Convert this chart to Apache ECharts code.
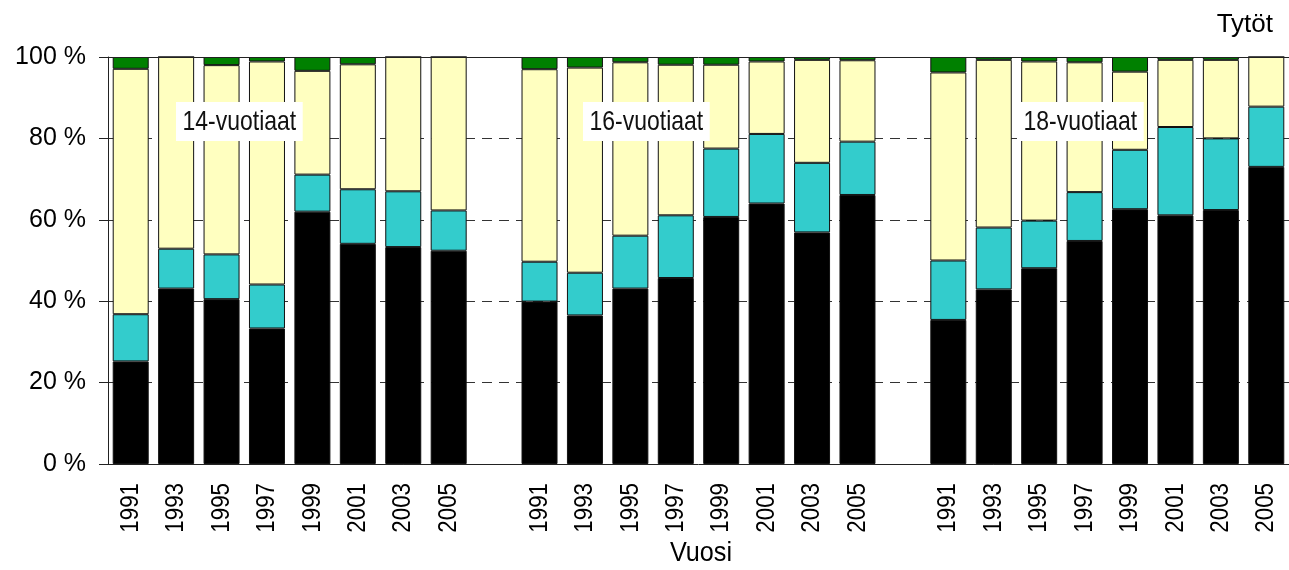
<!DOCTYPE html>
<html>
<head>
<meta charset="utf-8">
<script src="https://cdn.jsdelivr.net/npm/echarts@6/dist/echarts.min.js"></script>
<style>
html,body{margin:0;padding:0;background:#fff;}
#chart{width:1289px;height:570px;}
</style>
</head>
<body>
<div id="chart"></div>
<script>
const groups = ['14-vuotiaat', '16-vuotiaat', '18-vuotiaat'];
const years = ['1991', '1993', '1995', '1997', '1999', '2001', '2003', '2005'];
const yTicks = [0, 20, 40, 60, 80, 100];

const black14 = [25.2, 43.1, 40.5, 33.3, 62.0, 54.1, 53.3, 52.4];
const cyan14 = [11.6, 9.8, 11.0, 10.8, 9.1, 13.4, 13.7, 9.9];
const yellow14 = [60.3, 47.1, 46.5, 54.8, 25.5, 30.7, 33.0, 37.7];
const green14 = [2.9, 0, 2.0, 1.1, 3.4, 1.8, 0, 0];

const black16 = [39.9, 36.5, 43.1, 45.7, 60.7, 64.0, 56.9, 66.1];
const cyan16 = [9.8, 10.5, 13.0, 15.4, 16.8, 17.1, 17.1, 13.1];
const yellow16 = [47.3, 50.4, 42.6, 37.0, 20.6, 17.8, 25.3, 20.0];
const green16 = [3.0, 2.6, 1.3, 1.9, 1.9, 1.1, 0.7, 0.8];

const black18 = [35.4, 42.9, 48.1, 54.8, 62.6, 61.1, 62.4, 73.0];
const cyan18 = [14.6, 15.2, 11.7, 12.0, 14.6, 21.7, 17.6, 14.8];
const yellow18 = [46.2, 41.2, 39.1, 31.9, 19.2, 16.5, 19.3, 12.2];
const green18 = [3.8, 0.7, 1.1, 1.3, 3.6, 0.7, 0.7, 0];

// Category list: 8 years, empty slot, 8 years, empty slot, 8 years
const categories = [];
groups.forEach((g, gi) => {
  years.forEach(y => categories.push(g + '|' + y));
  if (gi < groups.length - 1) categories.push('gap' + gi);
});
function join(a, b, c) {
  return [].concat(a, ['-'], b, ['-'], c);
}
const seriesDefs = [
  { name: 'black', color: '#000000', data: join(black14, black16, black18) },
  { name: 'cyan', color: '#33CCCC', data: join(cyan14, cyan16, cyan18) },
  { name: 'yellow', color: '#FFFFC0', data: join(yellow14, yellow16, yellow18) },
  { name: 'green', color: '#008000', data: join(green14, green16, green18) }
];

const font = "'Liberation Sans', Arial, sans-serif";

const chart = echarts.init(document.getElementById('chart'), null, { renderer: 'canvas' });
chart.setOption({
  animation: false,
  backgroundColor: '#ffffff',
  grid: { left: 108, top: 57, width: 1182, bottom: 106 },
  xAxis: {
    type: 'category',
    data: categories,
    axisLine: { show: true, lineStyle: { color: '#222', width: 1 } },
    axisTick: { show: false },
    axisLabel: { show: false },
    splitLine: { show: false }
  },
  yAxis: {
    type: 'value',
    min: yTicks[0],
    max: yTicks[yTicks.length - 1],
    interval: 20,
    axisLine: { show: true, lineStyle: { color: '#222', width: 1 } },
    axisTick: { show: true, inside: false, length: 9, lineStyle: { color: '#222' } },
    axisLabel: {
      margin: 22,
      color: '#000',
      fontFamily: font,
      fontSize: 25,
      formatter: v => v + ' %'
    },
    splitLine: {
      show: true,
      lineStyle: { color: ['transparent', '#333', '#333', '#333', '#333', 'transparent'], type: [10, 7], width: 1 }
    }
  },
  series: seriesDefs.map((s, i) => ({
    name: s.name,
    type: 'bar',
    stack: 'total',
    barWidth: 36,
    data: s.data,
    itemStyle: { color: s.color, borderColor: '#111', borderWidth: 1 },
    emphasis: { disabled: true },
    markLine: i === 0 ? {
      silent: true, symbol: 'none', label: { show: false },
      lineStyle: { color: '#222', type: 'solid', width: 1 },
      data: [{ yAxis: yTicks[yTicks.length - 1] }]
    } : undefined
  }))
});

// Text annotations and rotated, condensed year labels
const graphics = [];
const axisY = chart.convertToPixel({ yAxisIndex: 0 }, 0);
categories.forEach((c, i) => {
  if (c.indexOf('|') < 0) return;
  const cx = chart.convertToPixel({ xAxisIndex: 0 }, i);
  graphics.push({
    type: 'text', x: cx, y: axisY + 19, rotation: Math.PI / 2, scaleX: 0.86, z: 100,
    style: { text: c.split('|')[1], font: '26px ' + font, fill: '#000', align: 'right', verticalAlign: 'middle' }
  });
});
const boxPos = [[176, 102], [583, 102], [1017, 102]];
groups.forEach((g, gi) => {
  graphics.push({
    type: 'text', x: boxPos[gi][0], y: boxPos[gi][1], scaleX: 0.82, z: 100,
    style: { text: g, font: '28px ' + font, fill: '#111', backgroundColor: '#fff', padding: [6, 8, 5, 8] }
  });
});
graphics.push({ type: 'text', x: 1273, y: 12, z: 100,
  style: { text: 'Tytöt', font: '26px ' + font, fill: '#000', align: 'right' } });
graphics.push({ type: 'text', x: 701, y: 539, scaleX: 0.9, z: 100,
  style: { text: 'Vuosi', font: '28px ' + font, fill: '#000', align: 'center' } });
chart.setOption({ graphic: graphics });
</script>
</body>
</html>
